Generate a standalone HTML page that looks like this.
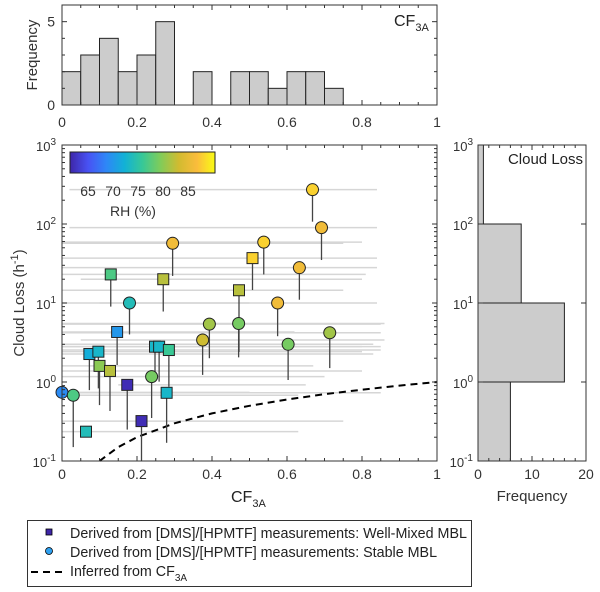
<!DOCTYPE html>
<html><head><meta charset="utf-8"><style>
html,body{margin:0;padding:0;background:#fff;}
svg{display:block;font-family:"Liberation Sans",Arial,sans-serif;}
</style></head><body>
<svg id="fig" width="600" height="592" viewBox="0 0 600 592" xmlns="http://www.w3.org/2000/svg">
<defs>
<linearGradient id="parula" x1="0" x2="1" y1="0" y2="0">
<stop offset="0" stop-color="rgb(62,38,168)"/>
<stop offset="0.125" stop-color="rgb(72,82,244)"/>
<stop offset="0.25" stop-color="rgb(46,135,247)"/>
<stop offset="0.375" stop-color="rgb(18,177,214)"/>
<stop offset="0.5" stop-color="rgb(55,200,151)"/>
<stop offset="0.625" stop-color="rgb(129,204,89)"/>
<stop offset="0.75" stop-color="rgb(209,187,48)"/>
<stop offset="0.875" stop-color="rgb(250,188,60)"/>
<stop offset="1" stop-color="rgb(249,251,21)"/>
</linearGradient>
</defs>
<g id="topPanel"></g>
<g id="mainPanel"></g>
<g id="rightPanel"></g>
<g id="legend">
<rect x="27.5" y="520.5" width="444" height="66" fill="#fff" stroke="#333" stroke-width="1"/>
<rect x="46" y="529" width="6" height="6" fill="rgb(62,38,168)" stroke="#000" stroke-width="0.8"/>
<text x="70" y="538" font-size="14.3" fill="#222">Derived from [DMS]/[HPMTF] measurements: Well-Mixed MBL</text>
<circle cx="49" cy="551" r="3.5" fill="rgb(46,160,240)" stroke="#000" stroke-width="0.8"/>
<text x="70" y="557" font-size="14.3" fill="#222">Derived from [DMS]/[HPMTF] measurements: Stable MBL</text>
<line x1="31" y1="572" x2="67" y2="572" stroke="#000" stroke-width="2" stroke-dasharray="7,5"/>
<text x="70" y="576" font-size="14.3" fill="#222">Inferred from CF<tspan font-size="10" dy="5">3A</tspan></text>
</g>
</svg>
<script>
// ---- data ----
const histBinsCF = [0,0.05,0.1,0.15,0.2,0.25,0.3,0.35,0.4,0.45,0.5,0.55,0.6,0.65,0.7,0.75];
const histCountsCF = [2,3,4,2,3,5,0,2,0,2,2,1,2,2,1];
const histDecades = [-1,0,1,2,3];
const histCountsLoss = [6,16,8,1];

const circCF = [0.0,0.03,0.18,0.295,0.239,0.375,0.393,0.471,0.538,0.575,0.603,0.633,0.668,0.692,0.714];
const circLoss = [0.74,0.68,10,57,1.17,3.4,5.4,5.5,59,10,3.0,28,272,90,4.2];
const circStemLo = [0.74,0.15,4.0,22,0.35,1.23,2.0,2.05,23,3.8,1.06,11,107,35,1.5];
const circRH = [69,77,74,86,79,83,81,79,88,86,79,86,88,86,81];
const circLo = [0.0,0.0,0.1,0.0,0.0,0.05,0.0,0.0,0.0,0.0,0.0,0.0,0.02,0.02,0.0];
const circHi = [0.5,0.63,0.5,0.75,0.7,0.86,0.85,0.86,0.8,0.84,0.83,0.84,0.84,0.84,0.85];

const sqCF = [0.064,0.073,0.097,0.1,0.128,0.13,0.147,0.174,0.212,0.248,0.259,0.27,0.285,0.279,0.472,0.508];
const sqLoss = [0.235,2.26,2.42,1.6,1.38,23,4.3,0.92,0.32,2.8,2.8,20,2.54,0.73,14.5,37];
const sqStemLo = [0.235,0.79,0.83,0.51,0.43,9,1.64,0.25,0.1,1.35,1.01,7.8,0.87,0.17,2.4,14.6];
const sqRH = [74,72,73,80,82,77,70,62,62,73,73,82,76,73,82,88];
const sqLo = [0.0,0.0,0.0,0.0,0.0,0.0,0.0,0.15,0.0,0.0,0.0,0.05,0.0,0.0,0.0,0.0];
const sqHi = [0.63,0.83,0.8,0.67,0.8,0.81,0.62,0.65,0.75,0.85,0.8,0.8,0.85,0.85,0.75,0.84];

const inferredCF = [0.1,0.15,0.2,0.3,0.4,0.5,0.6,0.7,0.8,0.9,1.0];
const xTicks = [0,0.2,0.4,0.6,0.8,1];
const cbTicks = [65,70,75,80,85];

// ---- helpers ----
const NS='http://www.w3.org/2000/svg';
function mk(parent,tag,attrs){const e=document.createElementNS(NS,tag);for(const k in attrs)e.setAttribute(k,attrs[k]);parent.appendChild(e);return e;}
const X0=62,X1=437;
const xs=v=>X0+v*(X1-X0);
const Y3=145,Ym1=461;
const ys=v=>Ym1-(Math.log10(v)+1)*(Ym1-Y3)/4;
const ysl=l=>Ym1-(l+1)*(Ym1-Y3)/4;
const stops=[[62,38,168],[72,82,244],[46,135,247],[18,177,214],[55,200,151],[129,204,89],[209,187,48],[250,188,60],[249,251,21]];
const RH0=61.4,RH1=90.4;
function parula(rh){let t=(rh-RH0)/(RH1-RH0);t=Math.max(0,Math.min(1,t))*8;const i=Math.min(7,Math.floor(t)),f=t-i;const a=stops[i],b=stops[i+1];return 'rgb('+a.map((v,j)=>Math.round(v+(b[j]-v)*f)).join(',')+')';}
function sup(parent,x,y,base,exp,anchor){const t=mk(parent,'text',{x:x,y:y,'font-size':13,fill:'#333','text-anchor':anchor||'end'});t.textContent=base;const s=document.createElementNS(NS,'tspan');s.setAttribute('font-size','10');s.setAttribute('dy','-6');s.textContent=exp;t.appendChild(s);return t;}

// ---- top histogram ----
const gTop=document.getElementById('topPanel');
const TY0=105,TY1=5;const ty=v=>TY0-v*(TY0-TY1)/6;
for(let i=0;i<histCountsCF.length;i++){if(!histCountsCF[i])continue;
 const r=mk(gTop,'rect',{x:xs(histBinsCF[i]),y:ty(histCountsCF[i]),width:xs(histBinsCF[i+1])-xs(histBinsCF[i]),height:TY0-ty(histCountsCF[i]),fill:'#cccccc',stroke:'#222','stroke-width':1});
 
 }
mk(gTop,'rect',{x:X0,y:TY1,width:X1-X0,height:TY0-TY1,fill:'none',stroke:'#333','stroke-width':1});
for(let i=0;i<=20;i++){const x=xs(i/20),l=i%4==0?5:3;mk(gTop,'line',{x1:x,x2:x,y1:TY0,y2:TY0-l,stroke:'#333'});mk(gTop,'line',{x1:x,x2:x,y1:TY1,y2:TY1+l,stroke:'#333'});}
for(let v=0;v<=6;v++){const l=(v%5==0)?5:3;mk(gTop,'line',{x1:X0,x2:X0+l,y1:ty(v),y2:ty(v),stroke:'#333'});mk(gTop,'line',{x1:X1,x2:X1-l,y1:ty(v),y2:ty(v),stroke:'#333'});}
xTicks.forEach(v=>{const t=mk(gTop,'text',{x:xs(v),y:127,'font-size':14,fill:'#333','text-anchor':'middle'});t.textContent=String(v);
 });
[0,5].forEach(v=>{const t=mk(gTop,'text',{x:55,y:ty(v)+5,'font-size':14,fill:'#333','text-anchor':'end'});t.textContent=String(v);
 });
{const t=mk(gTop,'text',{x:0,y:0,'font-size':15,fill:'#333','text-anchor':'middle',transform:'translate(37,55) rotate(-90)'});t.textContent='Frequency';
}
{const t=mk(gTop,'text',{x:394,y:26,'font-size':16,fill:'#222'});t.textContent='CF';const s=document.createElementNS(NS,'tspan');s.setAttribute('font-size','11');s.setAttribute('dy','5');s.textContent='3A';t.appendChild(s);
}

// ---- main panel ----
const gMain=document.getElementById('mainPanel');
mk(gMain,'rect',{x:X0,y:Y3,width:X1-X0,height:Ym1-Y3,fill:'#fff'});
function hl(cf,loss,lo,hi){const l=mk(gMain,'line',{x1:xs(lo),x2:xs(hi),y1:ys(loss),y2:ys(loss),stroke:'#d6d6d6','stroke-width':1.5});
 }
circCF.forEach((c,i)=>hl(c,circLoss[i],circLo[i],circHi[i]));
sqCF.forEach((c,i)=>hl(c,sqLoss[i],sqLo[i],sqHi[i]));
{const d=inferredCF.map((c,i)=>(i?'L':'M')+xs(c).toFixed(1)+','+ys(c).toFixed(1)).join(' ');
const p=mk(gMain,'path',{d:d,fill:'none',stroke:'#000','stroke-width':2,'stroke-dasharray':'7,5'});
}
function stem(cf,loss,lo){if(lo>=loss)return;const l=mk(gMain,'line',{x1:xs(cf),x2:xs(cf),y1:ys(loss),y2:Math.min(Ym1,ys(lo)),stroke:'#444','stroke-width':1.3});
 }
circCF.forEach((c,i)=>stem(c,circLoss[i],circStemLo[i]));
sqCF.forEach((c,i)=>stem(c,sqLoss[i],sqStemLo[i]));
sqCF.forEach((c,i)=>{const r=mk(gMain,'rect',{x:xs(c)-5.5,y:ys(sqLoss[i])-5.5,width:11,height:11,fill:parula(sqRH[i]),stroke:'#222','stroke-width':1});
 });
circCF.forEach((c,i)=>{const r=mk(gMain,'circle',{cx:xs(c),cy:ys(circLoss[i]),r:6,fill:parula(circRH[i]),stroke:'#222','stroke-width':1});
 });
mk(gMain,'rect',{x:X0,y:Y3,width:X1-X0,height:Ym1-Y3,fill:'none',stroke:'#333','stroke-width':1});
for(let i=0;i<=20;i++){const x=xs(i/20),l=i%4==0?5:3;mk(gMain,'line',{x1:x,x2:x,y1:Ym1,y2:Ym1-l,stroke:'#333'});mk(gMain,'line',{x1:x,x2:x,y1:Y3,y2:Y3+l,stroke:'#333'});}
for(let e=-1;e<3;e++)for(let m=1;m<10;m++){const y=ys(m*Math.pow(10,e)),l=m==1?5:3;mk(gMain,'line',{x1:X0,x2:X0+l,y1:y,y2:y,stroke:'#333'});mk(gMain,'line',{x1:X1,x2:X1-l,y1:y,y2:y,stroke:'#333'});}
xTicks.forEach(v=>{const t=mk(gMain,'text',{x:xs(v),y:479,'font-size':14,fill:'#333','text-anchor':'middle'});t.textContent=String(v);
 });
histDecades.forEach(e=>{const t=sup(gMain,56,ysl(e)+6,'10',String(e));
 });
{const t=mk(gMain,'text',{x:0,y:0,'font-size':15,fill:'#333','text-anchor':'middle',transform:'translate(24,303) rotate(-90)'});t.textContent='Cloud Loss (h';const s=document.createElementNS(NS,'tspan');s.setAttribute('font-size','11');s.setAttribute('dy','-6');s.textContent='-1';t.appendChild(s);const s2=document.createElementNS(NS,'tspan');s2.setAttribute('dy','6');s2.textContent=')';t.appendChild(s2);
}
{const t=mk(gMain,'text',{x:231,y:502,'font-size':16,fill:'#222'});t.textContent='CF';const s=document.createElementNS(NS,'tspan');s.setAttribute('font-size','11');s.setAttribute('dy','5');s.textContent='3A';t.appendChild(s);
}
{const r=mk(gMain,'rect',{x:70,y:152,width:145,height:21,fill:'url(#parula)',stroke:'#222','stroke-width':1});

const cx=v=>70+(v-RH0)/(RH1-RH0)*145;
cbTicks.forEach(v=>{const t=mk(gMain,'text',{x:cx(v),y:196,'font-size':14,fill:'#333','text-anchor':'middle'});t.textContent=String(v);
 });
const t=mk(gMain,'text',{x:133,y:216,'font-size':14,fill:'#333','text-anchor':'middle'});t.textContent='RH (%)';
}

// ---- right histogram ----
const gRight=document.getElementById('rightPanel');
const RX0=478,RX1=586;const rx=v=>RX0+v*(RX1-RX0)/20;
histCountsLoss.forEach((c,i)=>{const r=mk(gRight,'rect',{x:RX0,y:ysl(histDecades[i+1]),width:rx(c)-RX0,height:ysl(histDecades[i])-ysl(histDecades[i+1]),fill:'#cccccc',stroke:'#222','stroke-width':1});
 });
mk(gRight,'rect',{x:RX0,y:Y3,width:RX1-RX0,height:Ym1-Y3,fill:'none',stroke:'#333','stroke-width':1});
for(let v=0;v<=20;v+=2){const x=rx(v),l=v%10==0?5:3;mk(gRight,'line',{x1:x,x2:x,y1:Ym1,y2:Ym1-l,stroke:'#333'});mk(gRight,'line',{x1:x,x2:x,y1:Y3,y2:Y3+l,stroke:'#333'});}
for(let e=-1;e<=3;e++){const y=ysl(e);mk(gRight,'line',{x1:RX0,x2:RX0+5,y1:y,y2:y,stroke:'#333'});mk(gRight,'line',{x1:RX1,x2:RX1-5,y1:y,y2:y,stroke:'#333'});}
[0,10,20].forEach(v=>{const t=mk(gRight,'text',{x:rx(v),y:479,'font-size':14,fill:'#333','text-anchor':'middle'});t.textContent=String(v);
 });
histDecades.forEach(e=>{const t=sup(gRight,473,ysl(e)+6,'10',String(e));
 });
{const t=mk(gRight,'text',{x:532,y:501,'font-size':15,fill:'#333','text-anchor':'middle'});t.textContent='Frequency';
}
{const t=mk(gRight,'text',{x:583,y:164,'font-size':15,fill:'#222','text-anchor':'end'});t.textContent='Cloud Loss';
}
</script>
</body></html>
